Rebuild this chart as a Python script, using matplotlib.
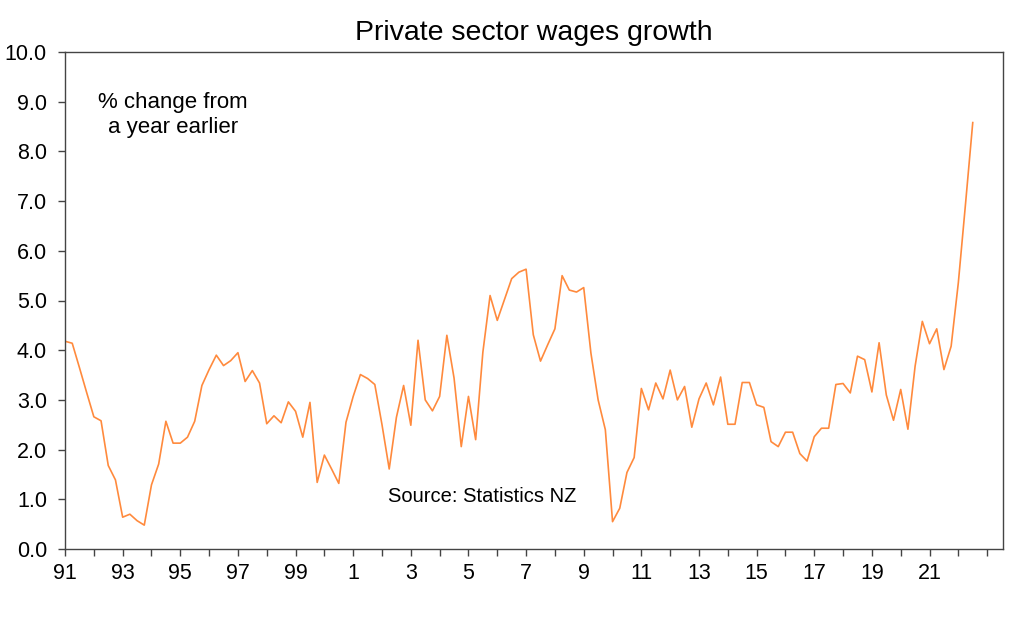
import numpy as np
import matplotlib.pyplot as plt

plt.rcParams['font.family'] = ['Liberation Sans', 'DejaVu Sans']

# quarterly annual % change, starting 1991 Q1
start_year = 1991
wages_growth = [
    4.18, 4.14, 3.65, 3.15, 2.66, 2.58, 1.68, 1.39, 0.64, 0.70,
    0.57, 0.48, 1.29, 1.71, 2.57, 2.13, 2.13, 2.25, 2.57, 3.29,
    3.61, 3.90, 3.69, 3.79, 3.95, 3.37, 3.59, 3.34, 2.52, 2.68,
    2.54, 2.96, 2.77, 2.25, 2.95, 1.34, 1.89, 1.61, 1.32, 2.55,
    3.07, 3.51, 3.43, 3.31, 2.50, 1.61, 2.65, 3.29, 2.49, 4.20,
    3.00, 2.78, 3.07, 4.30, 3.44, 2.06, 3.07, 2.20, 3.96, 5.10,
    4.60, 5.02, 5.44, 5.57, 5.63, 4.31, 3.78, 4.11, 4.43, 5.50,
    5.21, 5.17, 5.26, 3.94, 3.00, 2.40, 0.55, 0.82, 1.54, 1.84,
    3.23, 2.80, 3.34, 3.02, 3.60, 3.00, 3.27, 2.45, 3.02, 3.34,
    2.90, 3.46, 2.51, 2.51, 3.35, 3.35, 2.90, 2.85, 2.16, 2.06,
    2.35, 2.35, 1.92, 1.77, 2.26, 2.43, 2.43, 3.31, 3.33, 3.14,
    3.88, 3.81, 3.16, 4.15, 3.10, 2.59, 3.21, 2.41, 3.68, 4.58,
    4.13, 4.43, 3.61, 4.08, 5.36, 6.95, 8.58,
]

# a tick every year, label every second one (two-digit year, no leading zero)
tick_years = list(range(1991, 2024))
tick_labels = [str(y % 100) if y % 2 == 1 and y <= 2021 else '' for y in tick_years]


def main():
    x = start_year + np.arange(len(wages_growth)) / 4

    fig = plt.figure(figsize=(10.24, 6.25), dpi=100)
    ax = fig.add_axes([0.0635, 0.1216, 0.916, 0.7952])

    ax.plot(x, wages_growth, color='#ff8a3d', lw=1.2)

    ax.set_xlim(1991, 2023.55)
    ax.set_ylim(0, 10)
    ax.set_yticks(np.arange(0, 10.1, 1))
    ax.set_yticklabels(['%.1f' % v for v in np.arange(0, 10.1, 1)])
    ax.set_xticks(tick_years)
    ax.set_xticklabels(tick_labels)

    for s in ax.spines.values():
        s.set_color('#444444')
        s.set_linewidth(1.0)
    ax.tick_params(axis='both', direction='out', length=5, width=1.0,
                   color='#444444', labelsize=15.5, labelcolor='black')
    ax.tick_params(axis='x', pad=5)
    ax.tick_params(axis='y', pad=8)

    ax.set_title('Private sector wages growth', fontsize=20.5, pad=9)
    ax.text(0.115, 0.873, '% change from\na year earlier', transform=ax.transAxes,
            ha='center', va='center', fontsize=16, linespacing=1.25)
    ax.text(0.445, 0.105, 'Source: Statistics NZ', transform=ax.transAxes,
            ha='center', va='center', fontsize=14.5)

    plt.savefig('out.png', dpi=100)


if __name__ == '__main__':
    main()
